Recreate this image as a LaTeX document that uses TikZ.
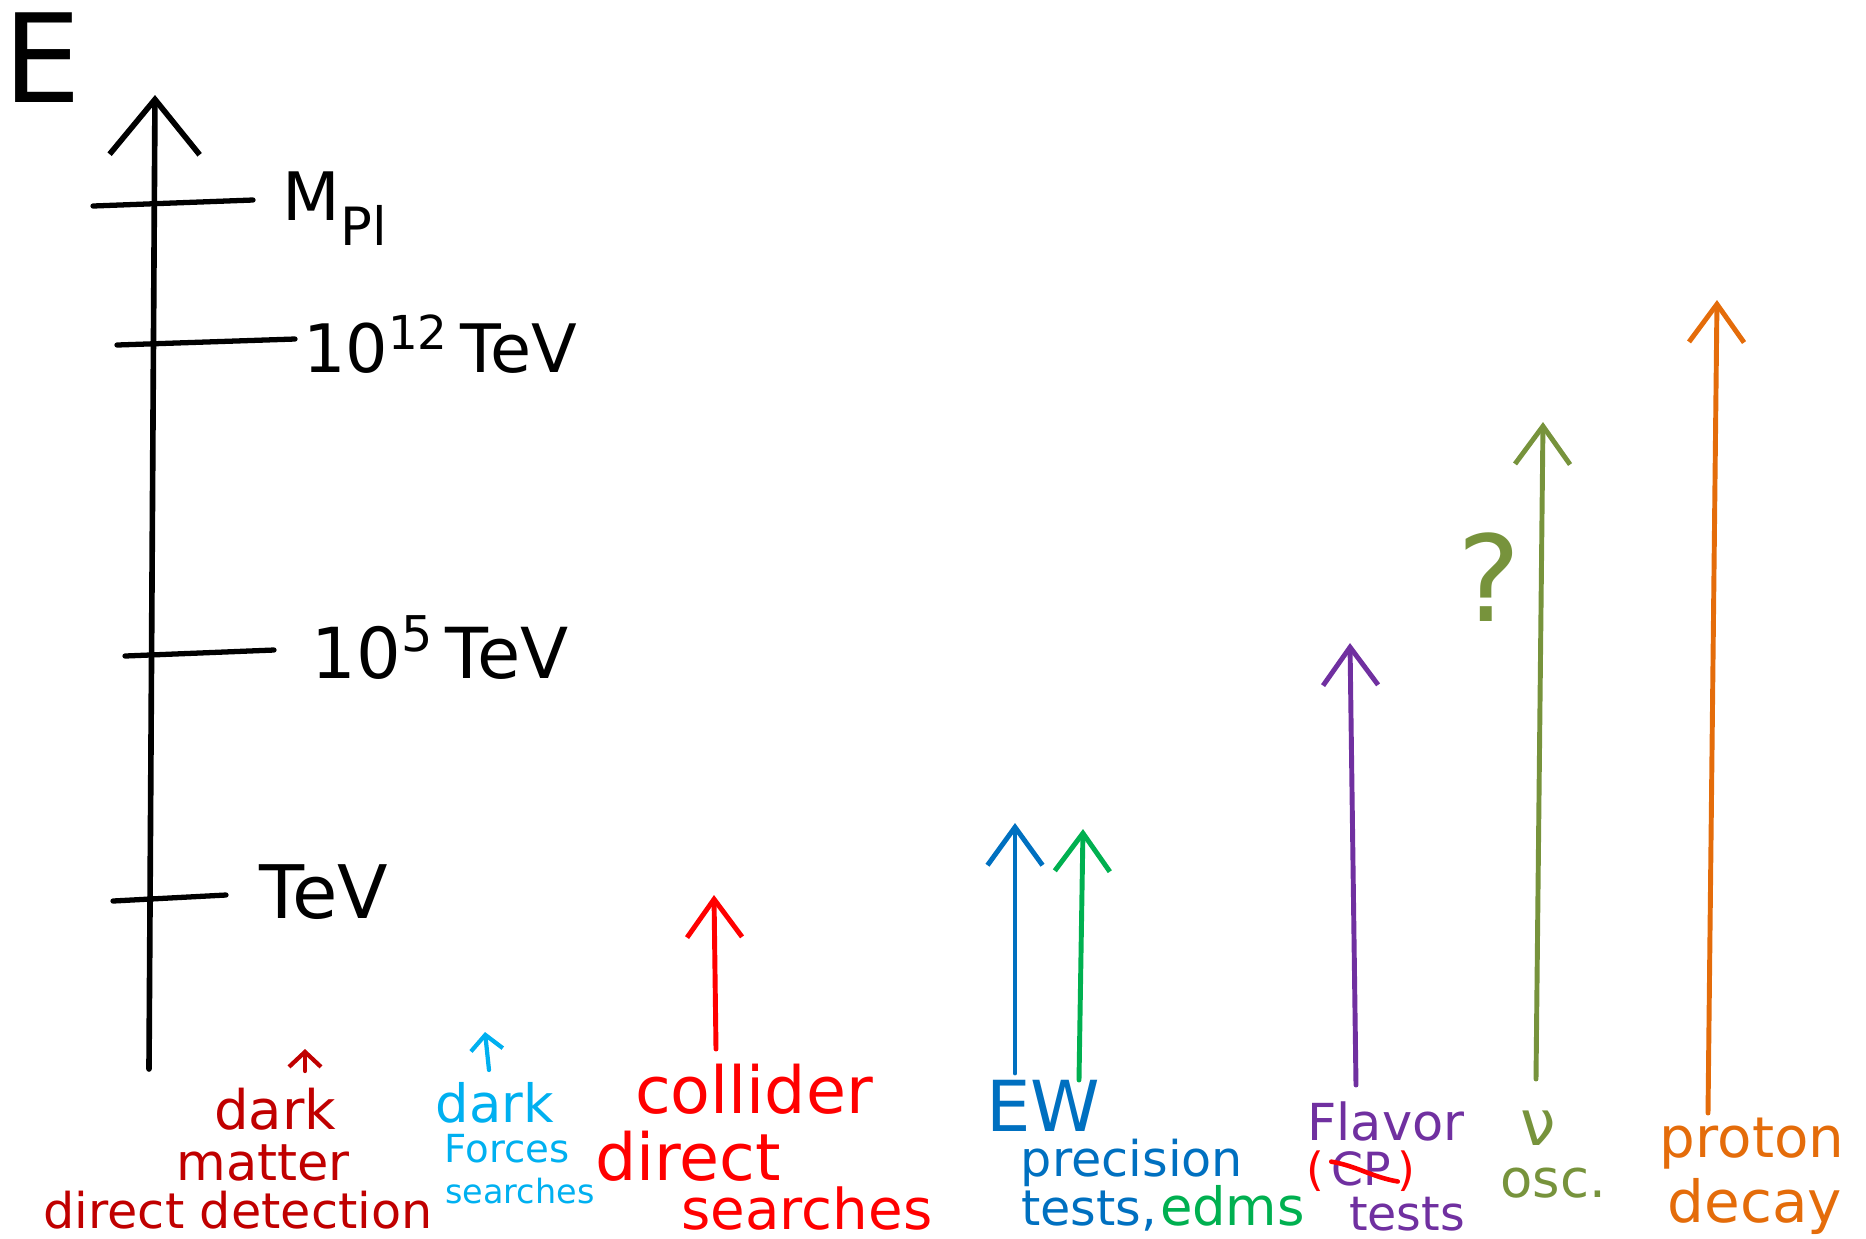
\documentclass[tikz,border=0pt]{standalone}
\usepackage{fontspec}
\setmainfont{DejaVu Sans}
\usepackage{xcolor}
\usepackage{tikz}
\usetikzlibrary{arrows.meta}

\definecolor{dmred}{HTML}{C00000}
\definecolor{dfblue}{HTML}{00B0F0}
\definecolor{colred}{HTML}{FF0000}
\definecolor{ewblue}{HTML}{0070C0}
\definecolor{edmgreen}{HTML}{00B050}
\definecolor{flavpurple}{HTML}{7030A0}
\definecolor{nuolive}{HTML}{77933C}
\definecolor{pdorange}{HTML}{E46C0A}

\newcommand{\fs}[1]{\fontsize{#1}{#1}\selectfont}

\begin{document}
\begin{tikzpicture}[x=0.01cm,y=-0.01cm]

  %Styles for picture
  \tikzset
  {
  lbl/.style={inner sep=0pt, outer sep=0pt, anchor=base},
  axisline/.style={line width=1.6pt, line cap=round, line join=round, -{Straight Barb[length=0.55cm,width=0.9cm]}},
  tickline/.style={line width=1.5pt, line cap=round},
  bigarrow/.style={line width=1.4pt, line cap=round, line join=round, -{Straight Barb[length=0.38cm,width=0.55cm]}},
  smallarrow/.style={line width=1.2pt, line cap=round, line join=round, -{Straight Barb[length=0.15cm,width=0.32cm]}},
  }

  \useasboundingbox (0,0) rectangle (1866,1238);

  %Axis and ticks
  \coordinate (axbot) at (149,1069);
  \coordinate (axtop) at (155,95);
  \coordinate (mpla) at (93,206);
  \coordinate (mplb) at (253,200);
  \coordinate (twa) at (117,345);
  \coordinate (twb) at (295,339);
  \coordinate (fva) at (125,656);
  \coordinate (fvb) at (274,650);
  \coordinate (teva) at (113,901);
  \coordinate (tevb) at (226,895);

  \node[lbl, font=\fs{35}] (elab) at (42,102) {E};
  \node[lbl, font=\fs{19}] (mpl) at (335,220) {M\raisebox{-0.7ex}{\fs{15}Pl}};
  \node[lbl, font=\fs{19}] (twelve) at (440,372) {10\textsuperscript{12}\,TeV};
  \node[lbl, font=\fs{20}] (five) at (440,678) {10\textsuperscript{5}\,TeV};
  \node[lbl, font=\fs{21}] (tev) at (324,918) {TeV};

  %Labels
  \node[lbl, text=dmred, font=\fs{15.5}] (dmdark) at (275,1129) {dark};
  \node[lbl, text=dmred, font=\fs{14.5}] (dmmatter) at (263,1180) {matter};
  \node[lbl, text=dmred, font=\fs{14}] (dmdirect) at (238,1228) {direct detection};

  \node[lbl, text=dfblue, font=\fs{15}] (dfdark) at (495,1122) {dark};
  \node[lbl, text=dfblue, font=\fs{11}] (dfforces) at (507,1162) {Forces};
  \node[lbl, text=dfblue, font=\fs{9.5}] (dfsearch) at (520,1203) {searches};

  \node[lbl, text=colred, font=\fs{18.5}] (colcol) at (754,1113) {collider};
  \node[lbl, text=colred, font=\fs{18.5}] (coldirect) at (688,1180) {direct};
  \node[lbl, text=colred, font=\fs{16}] (colsearch) at (807,1229) {searches};

  \node[lbl, text=ewblue, font=\fs{20}] (ew) at (1043,1131) {EW};
  \node[lbl, text=ewblue, font=\fs{14}] (ewprec) at (1132,1176) {precision};
  \node[lbl, text=ewblue, font=\fs{14}, anchor=base east] (ewtests) at (1157,1225) {tests,};
  \node[lbl, text=edmgreen, font=\fs{15}, anchor=base west] (edms) at (1160,1225) {edms};

  \node[lbl, text=flavpurple, font=\fs{14.5}] (flavor) at (1386,1140) {Flavor};
  \node[lbl, text=flavpurple, font=\fs{13}] (cp) at (1361,1185) {CP};
  \node[lbl, text=colred, font=\fs{13}, anchor=base east] (cpopen) at ([xshift=-2pt]cp.base west) {(};
  \node[lbl, text=colred, font=\fs{13}, anchor=base west] (cpclose) at ([xshift=2pt]cp.base east) {)};
  \node[lbl, text=flavpurple, font=\fs{13.5}] (flavtests) at (1407,1230) {tests};

  \node[lbl, text=nuolive, font=\fs{18}] (nu) at (1538,1145) {ν};
  \node[lbl, text=nuolive, font=\fs{15}] (osc) at (1553,1197) {osc.};
  \node[lbl, text=nuolive, font=\fs{34}] (qmark) at (1489,621) {?};

  \node[lbl, text=pdorange, font=\fs{16}] (proton) at (1752,1157) {proton};
  \node[lbl, text=pdorange, font=\fs{16.5}] (decay) at (1755,1222) {decay};

  %Arrow ends
  \coordinate (dmtail) at (305,1071);
  \coordinate (dmtip) at (305,1049);
  \coordinate (dftail) at (489,1070);
  \coordinate (dftip) at (485,1032);
  \coordinate (coltail) at (716,1049);
  \coordinate (coltip) at (714,895);
  \coordinate (ewtail) at (1015,1073);
  \coordinate (ewtip) at (1015,823);
  \coordinate (edmtail) at (1079,1080);
  \coordinate (edmtip) at (1083,829);
  \coordinate (flavtail) at (1356,1085);
  \coordinate (flavtip) at (1350,643);
  \coordinate (nutail) at (1536,1079);
  \coordinate (nutip) at (1543,422);
  \coordinate (pdtail) at (1708,1113);
  \coordinate (pdtip) at (1717,300);

  %Edges
  \draw[axisline] (axbot) -- (axtop);
  \draw[tickline] (mpla) -- (mplb);
  \draw[tickline] (twa) -- (twb);
  \draw[tickline] (fva) -- (fvb);
  \draw[tickline] (teva) -- (tevb);

  \draw[smallarrow, dmred] (dmtail) -- (dmtip);
  \draw[smallarrow, dfblue] (dftail) -- (dftip);
  \draw[bigarrow, colred] (coltail) -- (coltip);
  \draw[bigarrow, ewblue] (ewtail) -- (ewtip);
  \draw[bigarrow, edmgreen] (edmtail) -- (edmtip);
  \draw[bigarrow, flavpurple] (flavtail) -- (flavtip);
  \draw[bigarrow, nuolive] (nutail) -- (nutip);
  \draw[bigarrow, pdorange] (pdtail) -- (pdtip);

  \draw[colred, line width=1.3pt, line cap=round] ([yshift=-3pt]cp.north west) to[out=-10,in=170] ([xshift=2pt,yshift=1pt]cp.base east);
\end{tikzpicture}
\end{document}
